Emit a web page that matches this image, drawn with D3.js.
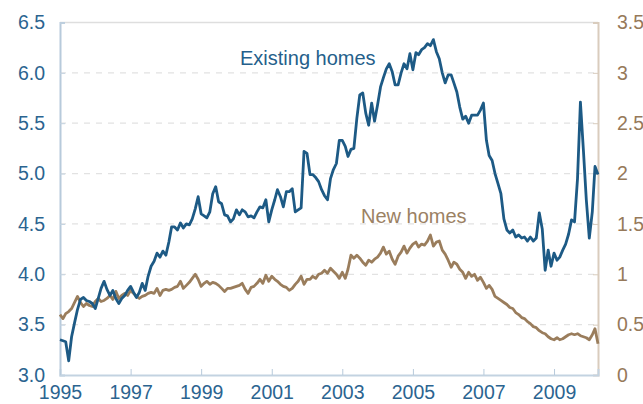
<!DOCTYPE html>
<html lang="en">

<head>
    <title></title>
    <meta charset="UTF-8">
    <script src="https://cdn.jsdelivr.net/npm/d3@7"></script>
    <style>
        body {
            margin: 0;
            background: #fff;
        }
        text {
            font-family: "Liberation Sans", Arial, sans-serif;
        }
    </style>
</head>

<body>
    <script>
        // monthly data, Jan 1995 .. Apr 2010
        var startYear = 1995;
        var existing = [
            3.35, 3.34, 3.33, 3.14, 3.38, 3.52, 3.65, 3.75, 3.77, 3.74, 3.73, 3.71,
            3.66, 3.76, 3.86, 3.93, 3.85, 3.79, 3.84, 3.76, 3.71, 3.76, 3.79, 3.84,
            3.88, 3.82, 3.77, 3.82, 3.91, 3.84, 3.98, 4.08, 4.13, 4.21, 4.17, 4.23,
            4.19, 4.32, 4.47, 4.47, 4.44, 4.51, 4.46, 4.50, 4.49, 4.55, 4.65, 4.77,
            4.60, 4.58, 4.56, 4.62, 4.80, 4.87, 4.72, 4.70, 4.59, 4.58, 4.52, 4.55,
            4.64, 4.59, 4.64, 4.62, 4.57, 4.58, 4.56, 4.62, 4.67, 4.66, 4.74, 4.52,
            4.64, 4.74, 4.84, 4.77, 4.67, 4.82, 4.82, 4.85, 4.62, 4.64, 4.66, 5.22,
            5.20, 4.99, 4.99, 4.96, 4.92, 4.84, 4.78, 4.74, 4.95, 5.04, 5.10, 5.33,
            5.33, 5.27, 5.17, 5.24, 5.25, 5.55, 5.78, 5.80, 5.60, 5.48, 5.70, 5.52,
            5.68, 5.86, 5.95, 6.04, 6.09, 6.01, 5.88, 5.88, 6.00, 6.09, 6.04, 6.19,
            6.03, 6.20, 6.18, 6.23, 6.25, 6.29, 6.27, 6.33, 6.21, 6.14, 6.00, 5.90,
            5.98, 5.98, 5.90, 5.81, 5.66, 5.54, 5.57, 5.50, 5.58, 5.58, 5.58, 5.63,
            5.70, 5.33, 5.18, 5.13, 5.00, 4.90, 4.80, 4.55, 4.44, 4.41, 4.44, 4.37,
            4.39, 4.36, 4.37, 4.33, 4.37, 4.33, 4.36, 4.61, 4.45, 4.04, 4.24, 4.08,
            4.21, 4.14, 4.17, 4.24, 4.30, 4.40, 4.54, 4.52, 4.95, 5.71, 5.23, 4.74,
            4.36, 4.62, 5.07, 4.99
        ];
        var newHomes = [
            0.60, 0.56, 0.61, 0.63, 0.66, 0.72, 0.78, 0.72, 0.68, 0.71, 0.69, 0.68,
            0.73, 0.76, 0.73, 0.74, 0.76, 0.79, 0.75, 0.83, 0.76, 0.79, 0.81, 0.79,
            0.84, 0.81, 0.78, 0.76, 0.78, 0.79, 0.81, 0.82, 0.81, 0.86, 0.79, 0.84,
            0.85, 0.84, 0.85, 0.87, 0.88, 0.93, 0.86, 0.89, 0.92, 0.96, 1.00, 0.95,
            0.88, 0.91, 0.93, 0.90, 0.92, 0.91, 0.89, 0.86, 0.83, 0.86, 0.86, 0.87,
            0.88, 0.89, 0.91, 0.85, 0.81, 0.87, 0.88, 0.91, 0.95, 0.91, 0.99, 0.93,
            0.98, 0.95, 0.93, 0.90, 0.88, 0.87, 0.84, 0.86, 0.90, 0.93, 0.98, 0.90,
            0.95, 0.95, 0.98, 0.96, 1.00, 1.01, 1.04, 1.01, 1.06, 1.03, 1.00, 0.96,
            1.02, 0.96, 1.05, 1.19, 1.16, 1.19, 1.16, 1.12, 1.09, 1.14, 1.12, 1.15,
            1.17, 1.21, 1.27, 1.20, 1.23, 1.15, 1.10, 1.18, 1.22, 1.28, 1.21, 1.26,
            1.30, 1.32, 1.27, 1.30, 1.29, 1.33, 1.39, 1.28, 1.32, 1.33, 1.24, 1.20,
            1.14, 1.07, 1.12, 1.10, 1.05, 1.02, 0.96, 1.02, 0.98, 1.00, 0.94, 0.97,
            0.92, 0.86, 0.89, 0.85, 0.78, 0.76, 0.74, 0.72, 0.70, 0.67, 0.66, 0.62,
            0.60, 0.57, 0.56, 0.53, 0.51, 0.48, 0.47, 0.44, 0.42, 0.41, 0.38, 0.36,
            0.35, 0.37, 0.35, 0.36, 0.38, 0.40, 0.41, 0.40, 0.41, 0.39, 0.38, 0.37,
            0.35, 0.40, 0.46, 0.31
        ];
        var yearTicks = [1995, 1997, 1999, 2001, 2003, 2005, 2007, 2009];
        var leftTicks = [3.0, 3.5, 4.0, 4.5, 5.0, 5.5, 6.0, 6.5];
        var rightTicks = [0, 0.5, 1, 1.5, 2, 2.5, 3, 3.5];

        var width = 643,
            height = 404,
            plotLeft = 60,
            plotRight = 598,
            plotTop = 22.5,
            plotBottom = 375;

        var blue = '#1d5a85',
            brown = '#9a7d5c';

        var oSvg = d3.select('body').append('svg')
            .attr('width', width)
            .attr('height', height);

        var parseMonth = function(i) {
            return new Date(startYear, i, 1);
        };

        // scales
        var x_scale = d3.scaleTime()
            .domain([parseMonth(0), parseMonth(existing.length - 1)])
            .range([plotLeft, plotRight]);
        var yL = d3.scaleLinear().domain([3, 6.5]).range([plotBottom, plotTop]);
        var yR = d3.scaleLinear().domain([0, 3.5]).range([plotBottom, plotTop]);

        // grid lines (dashed)
        oSvg.append('g').selectAll('line')
            .data(leftTicks.slice(1, -1))
            .enter().append('line')
            .attr('x1', plotLeft).attr('x2', plotRight)
            .attr('y1', function(d) { return yL(d); })
            .attr('y2', function(d) { return yL(d); })
            .attr('stroke', '#e2e2e2')
            .attr('stroke-width', 1.2)
            .attr('stroke-dasharray', '6,6');

        // top frame line
        oSvg.append('line')
            .attr('x1', plotLeft).attr('x2', plotRight)
            .attr('y1', plotTop).attr('y2', plotTop)
            .attr('stroke', '#dedede')
            .attr('stroke-width', 1.5);

        // left axis
        var yAxisL = d3.axisLeft(yL).tickValues(leftTicks).tickFormat(d3.format('.1f')).tickSize(-5).tickPadding(15);
        var gL = oSvg.append('g').attr('transform', 'translate(' + plotLeft + ',0)').call(yAxisL);
        gL.select('.domain').attr('stroke', '#b7cadb').attr('stroke-width', 2);
        gL.selectAll('.tick line').attr('stroke', '#c3d3e1');
        gL.selectAll('.tick text').attr('fill', '#2b6490').style('font-size', '19.5px');

        // right axis
        var yAxisR = d3.axisRight(yR).tickValues(rightTicks).tickFormat(d3.format('')).tickSize(-5).tickPadding(19);
        var gR = oSvg.append('g').attr('transform', 'translate(' + plotRight + ',0)').call(yAxisR);
        gR.select('.domain').attr('stroke', '#d9ccbd').attr('stroke-width', 2);
        gR.selectAll('.tick line').attr('stroke', '#d9ccbd');
        gR.selectAll('.tick text').attr('fill', '#96795a').style('font-size', '19.5px');

        // bottom axis
        var xAxis = d3.axisBottom(x_scale)
            .tickValues(yearTicks.map(function(y) { return new Date(y, 0, 1); }))
            .tickFormat(d3.timeFormat('%Y'))
            .tickSize(-6).tickPadding(10);
        var gX = oSvg.append('g').attr('transform', 'translate(0,' + plotBottom + ')').call(xAxis);
        gX.select('.domain').attr('stroke', '#c3d3e1').attr('stroke-width', 2);
        gX.selectAll('.tick line').attr('stroke', '#b7cadb');
        gX.selectAll('.tick text').attr('fill', '#2b6490').style('font-size', '19.5px');

        // lines
        var lineL = d3.line()
            .x(function(d, i) { return x_scale(parseMonth(i)); })
            .y(function(d) { return yL(d); });
        var lineR = d3.line()
            .x(function(d, i) { return x_scale(parseMonth(i)); })
            .y(function(d) { return yR(d); });

        oSvg.append('path')
            .datum(newHomes)
            .attr('d', lineR)
            .attr('fill', 'none')
            .attr('stroke', brown)
            .attr('stroke-width', 2.8)
            .attr('stroke-linejoin', 'round');

        oSvg.append('path')
            .datum(existing)
            .attr('d', lineL)
            .attr('fill', 'none')
            .attr('stroke', blue)
            .attr('stroke-width', 2.8)
            .attr('stroke-linejoin', 'round');

        // series labels
        oSvg.append('text')
            .attr('x', 240).attr('y', 65)
            .attr('fill', '#255f8b')
            .style('font-size', '20px')
            .text('Existing homes');
        oSvg.append('text')
            .attr('x', 361).attr('y', 222.5)
            .attr('fill', '#9b8163')
            .style('font-size', '20px')
            .text('New homes');
    </script>
</body>

</html>
